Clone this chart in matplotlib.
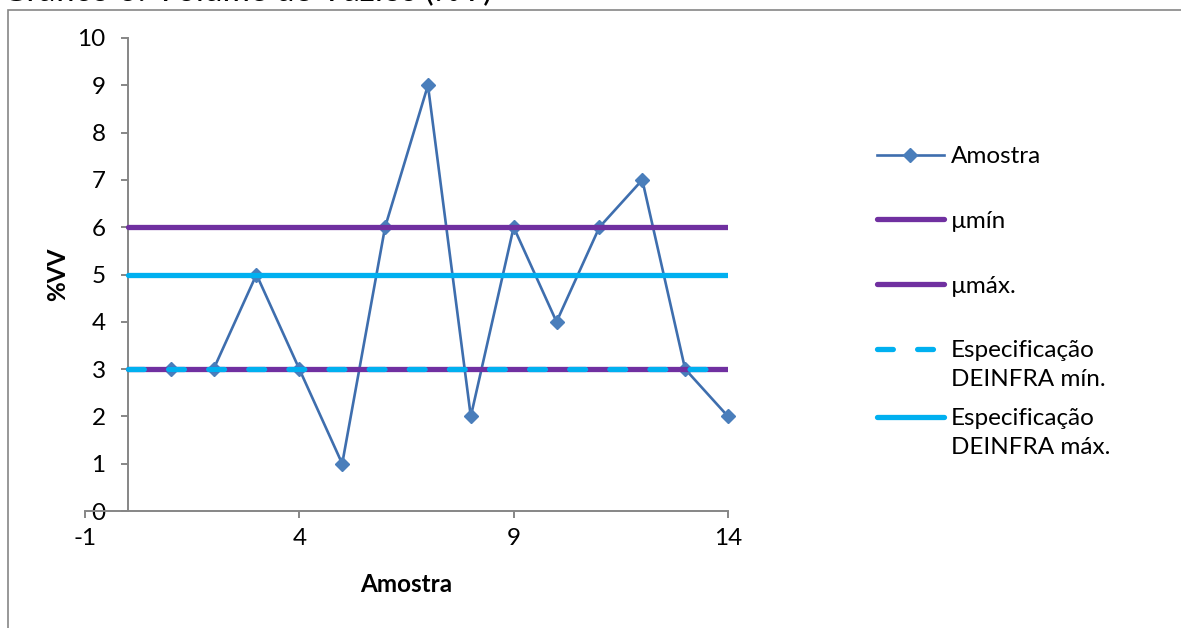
import matplotlib
matplotlib.use("Agg")
import matplotlib.pyplot as plt
from matplotlib.patches import Rectangle

plt.rcParams['font.family'] = ['Lato', 'DejaVu Sans']
plt.rcParams['axes.unicode_minus'] = False

# ---- data ----
amostra_x = [1, 2, 3, 4, 5, 6, 7, 8, 9, 10, 11, 12, 13, 14]
amostra_y = [3, 3, 5, 3, 1, 6, 9, 2, 6, 4, 6, 7, 3, 2]
line_x = [0, 14]
mu_min = 3
mu_max = 6
spec_min = 3
spec_max = 5
x_ticks = [-1, 4, 9, 14]
y_ticks = [0, 1, 2, 3, 4, 5, 6, 7, 8, 9, 10]
labels = ["Amostra", "µmín", "µmáx.", "Especificação\nDEINFRA mín.", "Especificação\nDEINFRA máx."]
title = "Gráfico 6: Volume de Vazios (%V)"

W, H = 1181, 628
fig = plt.figure(figsize=(W / 100, H / 100), dpi=100)
ax = fig.add_axes([85 / W, 117 / H, 643 / W, 473 / H])

blue_line = '#3E6EAE'
blue_mark = '#4A7EBB'
purple = '#7030A0'
cyan = '#00B0F0'
FS = 17.5

h0, = ax.plot(amostra_x, amostra_y, color=blue_line, lw=1.9, marker='D', ms=7.5,
              mfc=blue_mark, mec=blue_mark, zorder=2, clip_on=False)
h1, = ax.plot(line_x, [mu_min, mu_min], color=purple, lw=3.8, solid_capstyle='round', zorder=3)
h2, = ax.plot(line_x, [mu_max, mu_max], color=purple, lw=3.8, solid_capstyle='round', zorder=3)
h3, = ax.plot(line_x, [spec_min, spec_min], color=cyan, lw=3.8, dash_capstyle='round',
              linestyle=(0, (3.0, 4.6)), zorder=4)
h4, = ax.plot(line_x, [spec_max, spec_max], color=cyan, lw=3.8, solid_capstyle='round', zorder=4)

ax.set_xlim(-1, 14)
ax.set_ylim(0, 10)
ax.set_xticks(x_ticks)
ax.set_yticks(y_ticks)

for s in ['top', 'right']:
    ax.spines[s].set_visible(False)
ax.spines['left'].set_position(('data', 0))
ax.spines['bottom'].set_position(('data', 0))
for s in ['left', 'bottom']:
    ax.spines[s].set_color('#868686')
    ax.spines[s].set_linewidth(1.4)
ax.tick_params(axis='both', direction='out', length=5, width=1.4, color='#868686',
               labelsize=FS, labelcolor='black')
ax.tick_params(axis='y', pad=11)
ax.tick_params(axis='x', pad=7)
ax.patch.set_visible(False)

ax.set_xlabel("Amostra", fontsize=FS, fontweight='bold')
ax.set_ylabel("%VV", fontsize=FS, fontweight='bold')
ax.xaxis.set_label_coords(0.5, -0.156)
ax.xaxis.label.set_va('center')
ax.yaxis.set_label_coords(-0.042, 0.5)
ax.yaxis.label.set_va('center')

# chart border
fig.add_artist(Rectangle((8 / W, -0.1), 1.2, 1 - 10 / H + 0.1, transform=fig.transFigure,
                         fill=False, edgecolor='#868686', lw=1.2, clip_on=False))
fig.text(2 / W, 1 - 1.5 / H, title, fontsize=24, va='baseline', ha='left')

common = dict(frameon=False, fontsize=FS, handlelength=2.75, handletextpad=0.3,
              borderpad=0, borderaxespad=0, numpoints=1, loc='upper left')
leg1 = fig.legend([h0, h1, h2, h3], labels[:4], labelspacing=1.8,
                  bbox_to_anchor=(877 / W, 1 - 146 / H), **common)
leg2 = fig.legend([h4], labels[4:], bbox_to_anchor=(877 / W, 1 - 408 / H), **common)
for leg in (leg1, leg2):
    for t in leg.get_texts():
        t.set_linespacing(1.45)
    for col in leg._legend_handle_box.get_children():
        for hp in col.get_children():
            hp.align = 'top'

fig.savefig("out.png", dpi=100)
